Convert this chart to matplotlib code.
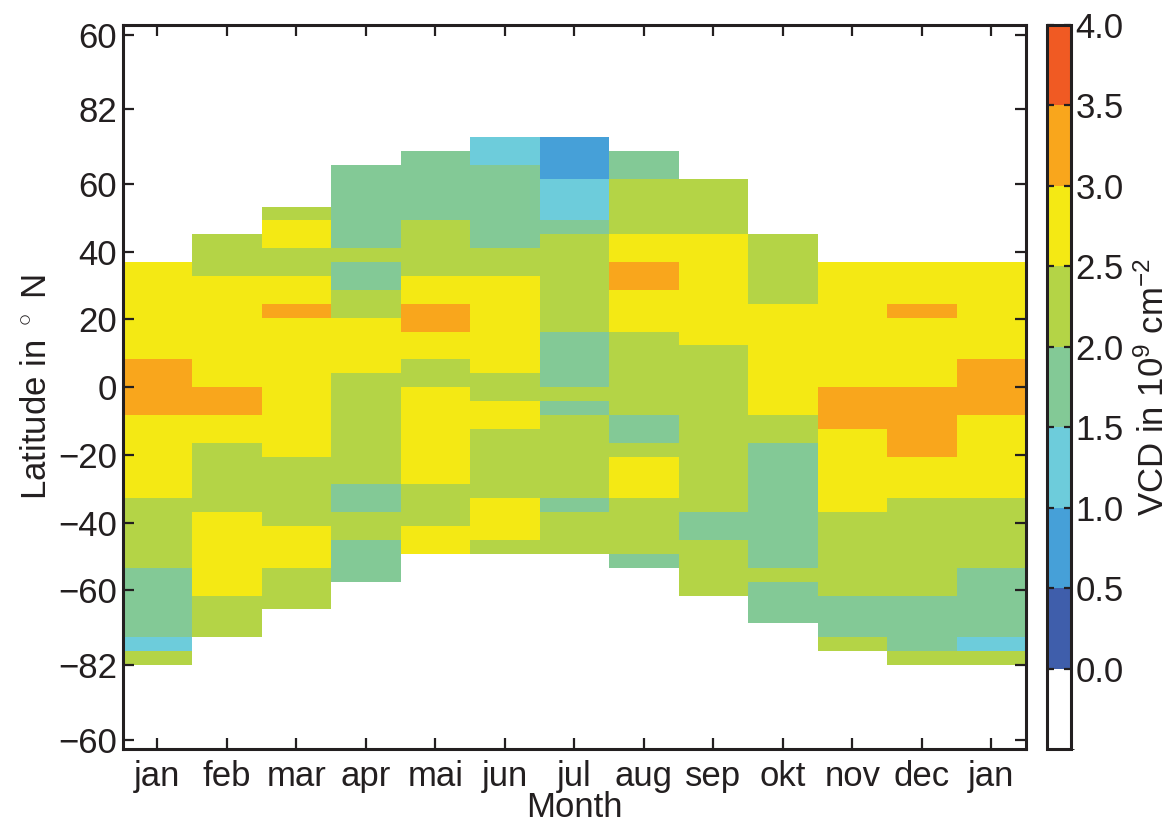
import matplotlib
matplotlib.use("Agg")
import matplotlib.pyplot as plt
import numpy as np
from matplotlib.colors import ListedColormap, BoundaryNorm

plt.rcParams["font.family"] = ["Liberation Sans", "DejaVu Sans"]
plt.rcParams["mathtext.fontset"] = "custom"
plt.rcParams["mathtext.rm"] = "Liberation Sans"
plt.rcParams["mathtext.it"] = "Liberation Sans"

nan = np.nan
INK = "#231f20"
FS = 25

months = ["jan", "feb", "mar", "apr", "mai", "jun", "jul",
          "aug", "sep", "okt", "nov", "dec", "jan"]

# latitude bands: 40 bands of 4.1 deg from -82 to 82
lat_edges = np.linspace(-82, 82, 41)

# VCD in 1e9 cm^-2 per latitude band, listed south -> north
vcd_jan = [2.3, 1.3, 1.8, 1.8, 1.8, 1.8, 1.8, 2.3, 2.3, 2.3,
           2.3, 2.3, 2.7, 2.7, 2.7, 2.7, 2.7, 2.7, 3.2, 3.2,
           3.2, 3.2, 2.7, 2.7, 2.7, 2.7, 2.7, 2.7, 2.7, nan,
           nan, nan, nan, nan, nan, nan, nan, nan, nan, nan]
vcd_feb = [nan, nan, 2.3, 2.3, 2.3, 2.7, 2.7, 2.7, 2.7, 2.7,
           2.7, 2.3, 2.3, 2.3, 2.3, 2.3, 2.7, 2.7, 3.2, 3.2,
           2.7, 2.7, 2.7, 2.7, 2.7, 2.7, 2.7, 2.7, 2.3, 2.3,
           2.3, nan, nan, nan, nan, nan, nan, nan, nan, nan]
vcd_mar = [nan, nan, nan, nan, 2.3, 2.3, 2.3, 2.7, 2.7, 2.7,
           2.3, 2.3, 2.3, 2.3, 2.3, 2.7, 2.7, 2.7, 2.7, 2.7,
           2.7, 2.7, 2.7, 2.7, 2.7, 3.2, 2.7, 2.7, 2.3, 2.3,
           2.7, 2.7, 2.3, nan, nan, nan, nan, nan, nan, nan]
vcd_apr = [nan, nan, nan, nan, nan, nan, 1.8, 1.8, 1.8, 2.3,
           2.3, 1.8, 1.8, 2.3, 2.3, 2.3, 2.3, 2.3, 2.3, 2.3,
           2.3, 2.7, 2.7, 2.7, 2.7, 2.3, 2.3, 1.8, 1.8, 2.3,
           1.8, 1.8, 1.8, 1.8, 1.8, 1.8, nan, nan, nan, nan]
vcd_mai = [nan, nan, nan, nan, nan, nan, nan, nan, 2.7, 2.7,
           2.3, 2.3, 2.3, 2.7, 2.7, 2.7, 2.7, 2.7, 2.7, 2.7,
           2.3, 2.3, 2.7, 2.7, 3.2, 3.2, 2.7, 2.7, 2.3, 2.3,
           2.3, 2.3, 1.8, 1.8, 1.8, 1.8, 1.8, nan, nan, nan]
vcd_jun = [nan, nan, nan, nan, nan, nan, nan, nan, 2.3, 2.7,
           2.7, 2.7, 2.3, 2.3, 2.3, 2.3, 2.3, 2.7, 2.7, 2.3,
           2.3, 2.7, 2.7, 2.7, 2.7, 2.7, 2.7, 2.7, 2.3, 2.3,
           1.8, 1.8, 1.8, 1.8, 1.8, 1.8, 1.3, 1.3, nan, nan]
vcd_jul = [nan, nan, nan, nan, nan, nan, nan, nan, 2.3, 2.3,
           2.3, 1.8, 2.3, 2.3, 2.3, 2.3, 2.3, 2.3, 1.8, 2.3,
           1.8, 1.8, 1.8, 1.8, 2.3, 2.3, 2.3, 2.3, 2.3, 2.3,
           2.3, 1.8, 1.3, 1.3, 1.3, 0.8, 0.8, 0.8, nan, nan]
vcd_aug = [nan, nan, nan, nan, nan, nan, nan, 1.8, 2.3, 2.3,
           2.3, 2.3, 2.7, 2.7, 2.7, 2.3, 1.8, 1.8, 2.3, 2.3,
           2.3, 2.3, 2.3, 2.3, 2.7, 2.7, 2.7, 3.2, 3.2, 2.7,
           2.7, 2.3, 2.3, 2.3, 2.3, 1.8, 1.8, nan, nan, nan]
vcd_sep = [nan, nan, nan, nan, nan, 2.3, 2.3, 2.3, 2.3, 1.8,
           1.8, 2.3, 2.3, 2.3, 2.3, 2.3, 2.3, 2.3, 2.3, 2.3,
           2.3, 2.3, 2.3, 2.7, 2.7, 2.7, 2.7, 2.7, 2.7, 2.7,
           2.7, 2.3, 2.3, 2.3, 2.3, nan, nan, nan, nan, nan]
vcd_okt = [nan, nan, nan, 1.8, 1.8, 1.8, 2.3, 1.8, 1.8, 1.8,
           1.8, 1.8, 1.8, 1.8, 1.8, 1.8, 2.3, 2.3, 2.7, 2.7,
           2.7, 2.7, 2.7, 2.7, 2.7, 2.7, 2.3, 2.3, 2.3, 2.3,
           2.3, nan, nan, nan, nan, nan, nan, nan, nan, nan]
vcd_nov = [nan, 2.3, 1.8, 1.8, 1.8, 2.3, 2.3, 2.3, 2.3, 2.3,
           2.3, 2.7, 2.7, 2.7, 2.7, 2.7, 2.7, 3.2, 3.2, 3.2,
           2.7, 2.7, 2.7, 2.7, 2.7, 2.7, 2.7, 2.7, 2.7, nan,
           nan, nan, nan, nan, nan, nan, nan, nan, nan, nan]
vcd_dec = [2.3, 1.8, 1.8, 1.8, 1.8, 2.3, 2.3, 2.3, 2.3, 2.3,
           2.3, 2.3, 2.7, 2.7, 2.7, 3.2, 3.2, 3.2, 3.2, 3.2,
           2.7, 2.7, 2.7, 2.7, 2.7, 3.2, 2.7, 2.7, 2.7, nan,
           nan, nan, nan, nan, nan, nan, nan, nan, nan, nan]

columns = [vcd_jan, vcd_feb, vcd_mar, vcd_apr, vcd_mai, vcd_jun, vcd_jul,
           vcd_aug, vcd_sep, vcd_okt, vcd_nov, vcd_dec, vcd_jan]

# colour classes, 0.5 wide, white below zero
levels = [-0.5, 0.0, 0.5, 1.0, 1.5, 2.0, 2.5, 3.0, 3.5, 4.0]
colors = ["#ffffff", "#3f5eab", "#46a0d8", "#6dccdb", "#83c996",
          "#b4d446", "#f4e914", "#f9a61c", "#f05a23"]
cbar_ticks = [0.0, 0.5, 1.0, 1.5, 2.0, 2.5, 3.0, 3.5, 4.0]

lat_ticks = [-104, -82, -60, -40, -20, 0, 20, 40, 60, 82, 104]
lat_labels = ["\u221260", "\u221282", "\u221260", "\u221240", "\u221220",
              "0", "20", "40", "60", "82", "60"]

cmap = ListedColormap(colors)
norm = BoundaryNorm(levels, cmap.N)

vcd = np.ma.masked_invalid(np.array(columns, dtype=float).T)
x_edges = np.arange(len(months) + 1) + 0.5

fig = plt.figure(figsize=(11.73, 8.22), dpi=100)
ax = fig.add_axes([0.1046, 0.0884, 0.7701, 0.8812])
cax = fig.add_axes([0.8928, 0.0884, 0.0205, 0.8812])

mesh = ax.pcolormesh(x_edges, lat_edges, vcd, cmap=cmap, norm=norm)
ax.set_xlim(0.5, len(months) + 0.5)
ax.set_ylim(-106.9, 106.9)
ax.set_xticks(np.arange(1, len(months) + 1))
ax.set_xticklabels(months)
ax.set_yticks(lat_ticks)
ax.set_yticklabels(lat_labels)
ax.tick_params(direction="in", length=8, width=1.6, top=True, right=True,
               labelsize=FS, colors=INK, pad=4)
ax.tick_params(axis="x", pad=8)
for sp in ax.spines.values():
    sp.set_linewidth(2.2)
    sp.set_color(INK)
ax.set_xlabel("Month", fontsize=FS, color=INK, labelpad=-2)
ax.set_ylabel("Latitude in $^\\circ$ N", fontsize=FS, color=INK, labelpad=4)

cbar = fig.colorbar(mesh, cax=cax, boundaries=levels, ticks=cbar_ticks)
cbar.ax.set_yticklabels(["%.1f" % t for t in cbar_ticks])
cbar.ax.tick_params(direction="in", length=5, width=1.6, left=True, right=True,
                    labelsize=FS, colors=INK, pad=3)
cbar.outline.set_linewidth(2.2)
cbar.outline.set_edgecolor(INK)
cbar.set_label("VCD in 10$^9$ cm$^{-2}$", fontsize=FS, color=INK, labelpad=9)

fig.savefig("out.png", dpi=100)
